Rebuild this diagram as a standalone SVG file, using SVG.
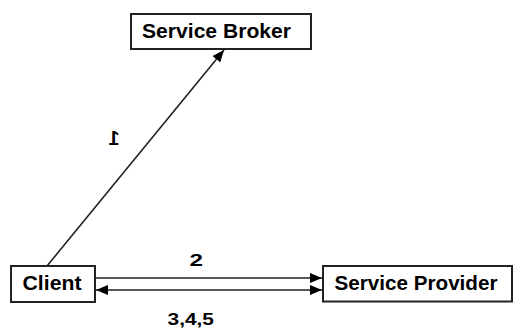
<svg xmlns="http://www.w3.org/2000/svg" width="516" height="329" viewBox="0 0 516 329">
<style>
.box{fill:#fff;stroke:#222;stroke-width:2}
.t{font-family:"Liberation Sans",Arial,sans-serif;font-weight:bold;fill:#000}
.c{stroke:#222;stroke-width:1.6;fill:none}
</style>
<defs>
<marker id="ah" viewBox="0 0 12 10" refX="12" refY="5" markerWidth="12" markerHeight="10" markerUnits="userSpaceOnUse" orient="auto-start-reverse">
<path d="M0,0 L12,5 L0,10 z" fill="#000"/>
</marker>
</defs>
<rect width="516" height="329" fill="#fff"/>
<g id="connectors">
<line class="c" x1="47" y1="266" x2="224" y2="50" marker-end="url(#ah)"/>
<line class="c" x1="96" y1="278" x2="322" y2="278" marker-end="url(#ah)"/>
<line class="c" x1="96" y1="290" x2="322" y2="290" marker-start="url(#ah)" marker-end="url(#ah)"/>
<text class="t" font-size="19.5" transform="translate(114,145) scale(-1,1)" text-anchor="middle">1</text>
<text class="t" font-size="17" x="189.5" y="266.3" textLength="13.5" lengthAdjust="spacingAndGlyphs">2</text>
<text class="t" font-size="16.5" x="167.5" y="324.7" textLength="46.5" lengthAdjust="spacingAndGlyphs">3,4,5</text>
</g>
<g id="service-broker">
<rect class="box" x="131" y="14" width="180" height="35"/>
<text class="t" font-size="19.5" x="142" y="37.5" textLength="149" lengthAdjust="spacingAndGlyphs">Service Broker</text>
</g>
<g id="client">
<rect class="box" x="11" y="266" width="84" height="36"/>
<text class="t" font-size="19.5" x="22.5" y="290" textLength="59" lengthAdjust="spacingAndGlyphs">Client</text>
</g>
<g id="service-provider">
<rect class="box" x="323" y="266" width="189" height="35.5"/>
<text class="t" font-size="19.5" x="334.5" y="289.5" textLength="163" lengthAdjust="spacingAndGlyphs">Service Provider</text>
</g>
</svg>
